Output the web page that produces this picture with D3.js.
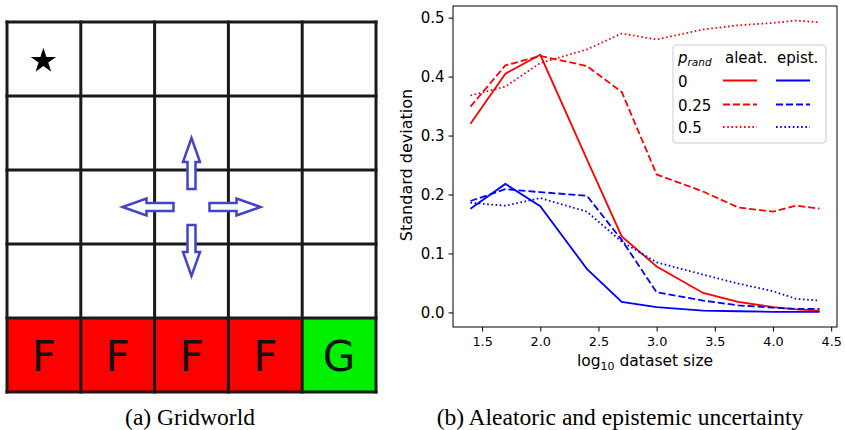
<!DOCTYPE html>
<html>
<head>
<meta charset="utf-8">
<script src="https://cdn.jsdelivr.net/npm/d3@7"></script>
<style>
  body { margin: 0; background: #fff; }
  svg { display: block; }
  text { font-family: 'DejaVu Sans', sans-serif; }
  text.caption { font-family: 'Liberation Serif', 'Times New Roman', serif; font-size: 23.5px; }
</style>
</head>
<body>
<div id="chart"></div>
<script>
// gridworld
const gridSize = 5
const bottomLabels = ['F', 'F', 'F', 'F', 'G']
const bottomColors = ['#ff0000', '#ff0000', '#ff0000', '#ff0000', '#00f000']
const startCell = [0, 0]
const arrowCell = [2, 2]
const arrowDirs = [[0, -1], [-1, 0], [1, 0], [0, 1]]

// uncertainty curves
const logSizes = [1.4, 1.7, 2.0, 2.4, 2.7, 3.0, 3.4, 3.7, 4.0, 4.2, 4.4]
const aleat0 = [0.320, 0.405, 0.437, 0.260, 0.129, 0.078, 0.033, 0.018, 0.009, 0.005, 0.003]
const aleat25 = [0.349, 0.419, 0.435, 0.418, 0.374, 0.234, 0.205, 0.178, 0.171, 0.181, 0.176]
const aleat5 = [0.368, 0.383, 0.423, 0.446, 0.473, 0.463, 0.480, 0.487, 0.491, 0.495, 0.492]
const epist0 = [0.176, 0.218, 0.180, 0.074, 0.018, 0.009, 0.003, 0.002, 0.001, 0.001, 0.001]
const epist25 = [0.189, 0.209, 0.204, 0.198, 0.123, 0.034, 0.020, 0.012, 0.008, 0.006, 0.006]
const epist5 = [0.186, 0.181, 0.194, 0.171, 0.120, 0.085, 0.064, 0.049, 0.036, 0.023, 0.020]
const pRand = ['0', '0.25', '0.5']
const xTicks = [1.5, 2.0, 2.5, 3.0, 3.5, 4.0, 4.5]
const yTicks = [0.0, 0.1, 0.2, 0.3, 0.4, 0.5]

const W = 845
const H = 430

const svg = d3.select('#chart')
  .append('svg')
  .attr('width', W)
  .attr('height', H)

// ---------- (a) gridworld ----------
const gx = d3.scaleLinear().domain([0, gridSize]).range([7, 376])
const gy = d3.scaleLinear().domain([0, gridSize]).range([22, 392])

const grid = svg.append('g')

bottomLabels.forEach((lab, i) => {
  grid.append('rect')
    .attr('x', gx(i))
    .attr('y', gy(gridSize - 1))
    .attr('width', gx(i + 1) - gx(i))
    .attr('height', gy(gridSize) - gy(gridSize - 1))
    .attr('fill', bottomColors[i])
  grid.append('text')
    .attr('x', (gx(i) + gx(i + 1)) / 2)
    .attr('y', (gy(gridSize - 1) + gy(gridSize)) / 2 + 16)
    .attr('text-anchor', 'middle')
    .style('font-size', '42px')
    .style('fill', '#111')
    .text(lab)
})

d3.range(gridSize + 1).forEach(k => {
  grid.append('line')
    .attr('x1', gx(k)).attr('x2', gx(k))
    .attr('y1', gy(0) - 1.5).attr('y2', gy(gridSize) + 1.5)
    .attr('stroke', '#1a1a1a').attr('stroke-width', 3)
  grid.append('line')
    .attr('y1', gy(k)).attr('y2', gy(k))
    .attr('x1', gx(0) - 1.5).attr('x2', gx(gridSize) + 1.5)
    .attr('stroke', '#1a1a1a').attr('stroke-width', 3)
})

// start star
grid.append('path')
  .attr('d', d3.symbol().type(d3.symbolStar).size(200)())
  .attr('transform', `translate(${(gx(startCell[0]) + gx(startCell[0] + 1)) / 2 - 0.5},${(gy(startCell[1]) + gy(startCell[1] + 1)) / 2 + 2})`)
  .attr('fill', '#000')

// arrows (outlined)
const acx = (gx(arrowCell[0]) + gx(arrowCell[0] + 1)) / 2
const acy = (gy(arrowCell[1]) + gy(arrowCell[1] + 1)) / 2
const arrowShape = [[0, -4], [27, -4], [27, -8.5], [51, 0], [27, 8.5], [27, 4], [0, 4]]
arrowDirs.forEach(d => {
  const ang = Math.atan2(d[1], d[0]) * 180 / Math.PI
  grid.append('path')
    .attr('d', d3.line()(arrowShape) + 'Z')
    .attr('transform', `translate(${acx + d[0] * 18},${acy + d[1] * 18}) rotate(${ang})`)
    .attr('fill', '#fff')
    .attr('stroke', '#4343c9')
    .attr('stroke-width', 2.5)
    .attr('stroke-linejoin', 'miter')
})

svg.append('text')
  .attr('class', 'caption')
  .attr('x', 190)
  .attr('y', 425)
  .attr('text-anchor', 'middle')
  .text('(a) Gridworld')

// ---------- (b) uncertainty chart ----------
const pLeft = 453, pRight = 837, pTop = 6, pBottom = 327

const xScale = d3.scaleLinear().domain([1.25, 4.55]).range([pLeft, pRight])
const yScale = d3.scaleLinear().domain([-0.02475, 0.51975]).range([pBottom, pTop])

const series = [
  { vals: aleat0, color: 'red', dash: null },
  { vals: aleat25, color: 'red', dash: '7,3' },
  { vals: aleat5, color: 'red', dash: '1.6,2.6' },
  { vals: epist0, color: 'blue', dash: null },
  { vals: epist25, color: 'blue', dash: '7,3' },
  { vals: epist5, color: 'blue', dash: '1.6,2.6' }
]

const line = d3.line()
  .x(d => xScale(d[0]))
  .y(d => yScale(d[1]))

const plot = svg.append('g')
series.forEach(s => {
  plot.append('path')
    .datum(logSizes.map((x, i) => [x, s.vals[i]]))
    .attr('d', line)
    .attr('fill', 'none')
    .attr('stroke', s.color)
    .attr('stroke-width', 1.8)
    .attr('stroke-dasharray', s.dash)
})

const xAxis = d3.axisBottom(xScale)
  .tickValues(xTicks)
  .tickFormat(d3.format('.1f'))
  .tickSizeOuter(0)
  .tickSize(4.5)
  .tickPadding(5)

const yAxis = d3.axisLeft(yScale)
  .tickValues(yTicks)
  .tickFormat(d3.format('.1f'))
  .tickSizeOuter(0)
  .tickSize(4.5)
  .tickPadding(4)

const gX = svg.append('g')
  .attr('transform', 'translate(0,' + pBottom + ')')
  .call(xAxis)
gX.selectAll('text').style('font-size', '12.8px').style('fill', '#000').attr('font-family', null)
gX.select('.domain').remove()

const gY = svg.append('g')
  .attr('transform', 'translate(' + pLeft + ',0)')
  .call(yAxis)
gY.selectAll('text').style('font-size', '15px').style('fill', '#000').attr('font-family', null)
gY.select('.domain').remove()

svg.selectAll('.tick line').attr('stroke', '#000').attr('stroke-width', 1)

// frame
svg.append('rect')
  .attr('x', pLeft).attr('y', pTop)
  .attr('width', pRight - pLeft).attr('height', pBottom - pTop)
  .attr('fill', 'none')
  .attr('stroke', '#000')
  .attr('stroke-width', 1)

// axis labels
const xl = svg.append('text')
  .attr('x', (pLeft + pRight) / 2)
  .attr('y', 366)
  .attr('text-anchor', 'middle')
  .style('font-size', '15.5px')
xl.append('tspan').text('log')
xl.append('tspan').attr('dy', 4).style('font-size', '11px').text('10')
xl.append('tspan').attr('dy', -4).text(' dataset size')

svg.append('text')
  .attr('transform', `translate(412,165) rotate(-90)`)
  .attr('text-anchor', 'middle')
  .style('font-size', '16px')
  .text('Standard deviation')

// legend
const lg = svg.append('g')
lg.append('rect')
  .attr('x', 673).attr('y', 45)
  .attr('width', 153).attr('height', 98)
  .attr('rx', 3)
  .attr('fill', 'rgba(255,255,255,0.8)')
  .attr('stroke', '#cccccc')
  .attr('stroke-width', 1)

const ph = lg.append('text').attr('x', 678).attr('y', 63).style('font-size', '15px')
ph.append('tspan').style('font-style', 'italic').text('p')
ph.append('tspan').attr('dy', 3).style('font-style', 'italic').style('font-size', '10.5px').text('rand')
lg.append('text').attr('x', 725).attr('y', 63).style('font-size', '15px').text('aleat.')
lg.append('text').attr('x', 777).attr('y', 63).style('font-size', '15px').text('epist.')

const rowY = [80.5, 104.5, 127]
pRand.forEach((p, i) => {
  lg.append('text')
    .attr('x', 678).attr('y', rowY[i] + 6)
    .style('font-size', '15px')
    .text(p)
  const sa = series[i], se = series[i + 3]
  lg.append('line')
    .attr('x1', 723).attr('x2', 757)
    .attr('y1', rowY[i]).attr('y2', rowY[i])
    .attr('stroke', sa.color).attr('stroke-width', 1.8)
    .attr('stroke-dasharray', sa.dash)
  lg.append('line')
    .attr('x1', 776).attr('x2', 810)
    .attr('y1', rowY[i]).attr('y2', rowY[i])
    .attr('stroke', se.color).attr('stroke-width', 1.8)
    .attr('stroke-dasharray', se.dash)
})

svg.append('text')
  .attr('class', 'caption')
  .attr('x', 620)
  .attr('y', 425)
  .attr('text-anchor', 'middle')
  .text('(b) Aleatoric and epistemic uncertainty')
</script>
</body>
</html>
